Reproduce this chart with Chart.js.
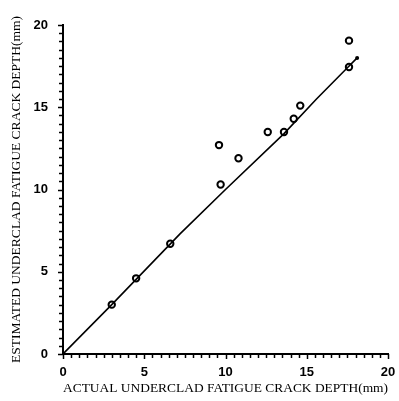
<!DOCTYPE html>
<html>
<head>
<meta charset="utf-8">
<script src="https://cdn.jsdelivr.net/npm/chart.js@4/dist/chart.umd.min.js"></script>
<style>
  html, body { margin: 0; padding: 0; background: #fff; }
  #wrap { width: 399px; height: 401px; }
</style>
</head>
<body>
<div id="wrap"><canvas id="chart" width="399" height="401"></canvas></div>
<script>
// measured points (actual vs estimated, mm)
const actualDepth    = [3.0, 4.5, 6.6, 9.6, 9.7, 10.8, 12.6, 13.6, 14.2, 14.6, 17.6, 17.6];
const estimatedDepth = [3.0, 4.6, 6.7, 12.7, 10.3, 11.9, 13.5, 13.5, 14.3, 15.1, 19.05, 17.45];

// fitted line
const lineX = [0, 3.0, 7.2, 10.0, 13.6, 15.6, 17.5, 18.1];
const lineY = [0, 3.0, 7.3, 10.0, 13.4, 15.5, 17.4, 18.0];

const tickLabels = [0, 5, 10, 15, 20];
const minorStep = 0.5;

const serif = "'Liberation Serif', 'DejaVu Serif', serif";
const tickFont = { family: "'Liberation Sans', Arial, sans-serif", size: 13, weight: "bold" };

function axisTick(v) {
  return tickLabels.includes(v) ? String(v) : "";
}

// small outward tick marks every 0.5 mm on both axes
const minorTicks = {
  id: "minorTicks",
  afterDraw(chart) {
    const { ctx, chartArea, scales } = chart;
    ctx.save();
    ctx.strokeStyle = "#000";
    ctx.lineWidth = 1.5;
    for (let v = scales.x.min; v <= scales.x.max + 1e-9; v += minorStep) {
      const px = Math.round(scales.x.getPixelForValue(v)) + 0.5;
      const len = v % 5 === 0 ? 5 : 4;
      ctx.beginPath();
      ctx.moveTo(px, chartArea.bottom);
      ctx.lineTo(px, chartArea.bottom + len);
      ctx.stroke();
    }
    for (let v = scales.y.min; v <= scales.y.max + 1e-9; v += minorStep) {
      const py = Math.round(scales.y.getPixelForValue(v)) + 0.5;
      const len = v % 5 === 0 ? 5 : 4;
      ctx.beginPath();
      ctx.moveTo(chartArea.left, py);
      ctx.lineTo(chartArea.left - len, py);
      ctx.stroke();
    }
    ctx.restore();
  }
};

new Chart(document.getElementById("chart"), {
  type: "scatter",
  data: {
    datasets: [
      {
        label: "fit",
        type: "line",
        data: lineX.map((x, i) => ({ x, y: lineY[i] })),
        borderColor: "#000",
        borderWidth: 1.6,
        pointRadius: lineX.map((x, i) => i === lineX.length - 1 ? 2 : 0),
        pointBackgroundColor: "#000",
        pointBorderWidth: 0,
        tension: 0,
        fill: false
      },
      {
        label: "data",
        data: actualDepth.map((x, i) => ({ x, y: estimatedDepth[i] })),
        pointStyle: "circle",
        pointRadius: 3.2,
        pointBorderWidth: 2,
        pointBorderColor: "#000",
        pointBackgroundColor: "#fff"
      }
    ]
  },
  options: {
    responsive: false,
    animation: false,
    layout: { padding: { left: 4, right: 11, top: 25, bottom: 0 } },
    plugins: { legend: { display: false }, tooltip: { enabled: false } },
    scales: {
      x: {
        type: "linear",
        min: 0, max: 20,
        afterFit: (s) => { s.height = 47; s.paddingLeft = 0; s.paddingRight = 0; },
        border: { color: "#000", width: 2 },
        grid: { display: false, tickLength: 5 },
        ticks: {
          stepSize: 5, autoSkip: false, maxRotation: 0, padding: 6,
          color: "#000", font: tickFont, callback: axisTick
        },
        title: {
          display: true, text: "ACTUAL UNDERCLAD FATIGUE CRACK DEPTH(mm)",
          color: "#000", font: { family: serif, size: 13.5 }, padding: { top: 5 }
        }
      },
      y: {
        type: "linear",
        min: 0, max: 20,
        afterFit: (s) => { s.width = 59; s.paddingTop = 0; s.paddingBottom = 0; },
        border: { color: "#000", width: 2 },
        grid: { display: false },
        ticks: {
          stepSize: 5, autoSkip: false, padding: 7,
          color: "#000", font: tickFont, callback: axisTick
        },
        title: {
          display: true, text: "ESTIMATED UNDERCLAD FATIGUE CRACK DEPTH(mm)",
          color: "#000", font: { family: serif, size: 13.5 }, padding: { bottom: 0 }
        }
      }
    }
  },
  plugins: [minorTicks]
});
</script>
</body>
</html>
